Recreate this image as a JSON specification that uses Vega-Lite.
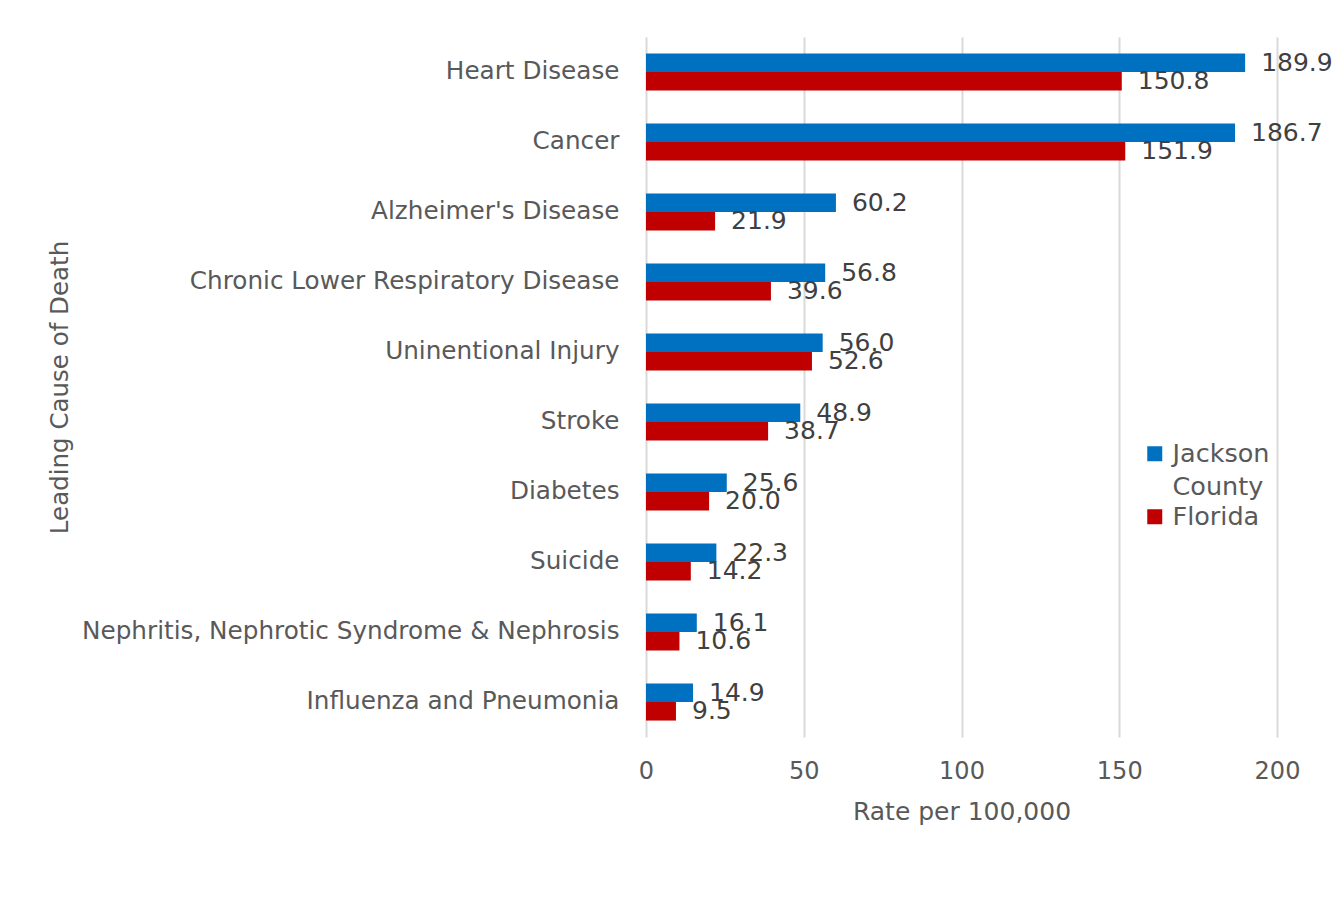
{
  "$schema": "https://vega.github.io/schema/vega-lite/v6.json",
  "autosize": {"type": "none"},
  "width": 631,
  "height": 700,
  "padding": {"left": 646, "top": 37, "right": 56, "bottom": 185},
  "background": "white",
  "config": {
    "view": {"stroke": null},
    "font": "DejaVu Sans"
  },
  "data": {
    "values": [
      {"cause": "Heart Disease", "series": "Jackson County", "rate": 189.9},
      {"cause": "Heart Disease", "series": "Florida", "rate": 150.8},
      {"cause": "Cancer", "series": "Jackson County", "rate": 186.7},
      {"cause": "Cancer", "series": "Florida", "rate": 151.9},
      {"cause": "Alzheimer's Disease", "series": "Jackson County", "rate": 60.2},
      {"cause": "Alzheimer's Disease", "series": "Florida", "rate": 21.9},
      {"cause": "Chronic Lower Respiratory Disease", "series": "Jackson County", "rate": 56.8},
      {"cause": "Chronic Lower Respiratory Disease", "series": "Florida", "rate": 39.6},
      {"cause": "Uninentional Injury", "series": "Jackson County", "rate": 56.0},
      {"cause": "Uninentional Injury", "series": "Florida", "rate": 52.6},
      {"cause": "Stroke", "series": "Jackson County", "rate": 48.9},
      {"cause": "Stroke", "series": "Florida", "rate": 38.7},
      {"cause": "Diabetes", "series": "Jackson County", "rate": 25.6},
      {"cause": "Diabetes", "series": "Florida", "rate": 20.0},
      {"cause": "Suicide", "series": "Jackson County", "rate": 22.3},
      {"cause": "Suicide", "series": "Florida", "rate": 14.2},
      {"cause": "Nephritis, Nephrotic Syndrome & Nephrosis", "series": "Jackson County", "rate": 16.1},
      {"cause": "Nephritis, Nephrotic Syndrome & Nephrosis", "series": "Florida", "rate": 10.6},
      {"cause": "Influenza and Pneumonia", "series": "Jackson County", "rate": 14.9},
      {"cause": "Influenza and Pneumonia", "series": "Florida", "rate": 9.5}
    ]
  },
  "encoding": {
    "y": {
      "field": "cause",
      "type": "nominal",
      "sort": null,
      "scale": {"paddingInner": 0.47, "paddingOuter": 0.235},
      "axis": {
        "title": "Leading Cause of Death",
        "titleFont": "DejaVu Sans",
        "titleFontSize": 24.5,
        "titleFontWeight": "normal",
        "titleColor": "#595959",
        "titleAngle": -90,
        "titleAlign": "center",
        "titleBaseline": "middle",
        "titleX": -586,
        "titleY": 350,
        "labelFont": "DejaVu Sans",
        "labelFontSize": 24.7,
        "labelColor": "#595959",
        "labelPadding": 27,
        "labelLimit": 0,
        "ticks": false,
        "domain": false,
        "grid": false
      }
    },
    "yOffset": {
      "field": "series",
      "type": "nominal",
      "scale": {"domain": ["Jackson County", "Florida"]}
    },
    "x": {
      "field": "rate",
      "type": "quantitative",
      "scale": {"domain": [0, 200], "nice": false},
      "axis": {
        "title": "Rate per 100,000",
        "titleFont": "DejaVu Sans",
        "titleFontSize": 25,
        "titleFontWeight": "normal",
        "titleColor": "#595959",
        "titleBaseline": "middle",
        "titleY": 74,
        "labelFont": "DejaVu Sans",
        "labelFontSize": 24,
        "labelColor": "#595959",
        "labelPadding": 22,
        "labelFlush": false,
        "values": [0, 50, 100, 150, 200],
        "ticks": false,
        "domain": false,
        "grid": true,
        "gridColor": "#d9d9d9",
        "gridWidth": 2
      }
    }
  },
  "layer": [
    {
      "mark": {"type": "bar"},
      "encoding": {
        "color": {
          "field": "series",
          "type": "nominal",
          "scale": {"domain": ["Jackson County", "Florida"], "range": ["#0070c0", "#c00000"]},
          "legend": {
            "title": null,
            "orient": "none",
            "legendX": 496,
            "legendY": 404,
            "padding": 0,
            "symbolType": "square",
            "symbolSize": 225,
            "symbolStrokeWidth": 0,
            "labelFont": "DejaVu Sans",
            "labelFontSize": 25.5,
            "labelColor": "#595959",
            "labelOffset": 5,
            "labelExpr": "datum.label == 'Jackson County' ? ['Jackson', 'County'] : datum.label",
            "rowPadding": 3,
            "encode": {"labels": {"update": {"lineHeight": {"value": 33}}}}
          }
        }
      }
    },
    {
      "mark": {"type": "text", "align": "left", "baseline": "middle", "dx": 16, "font": "DejaVu Sans", "fontSize": 25, "color": "#404040"},
      "encoding": {
        "text": {"field": "rate", "type": "quantitative", "format": ".1f"}
      }
    }
  ]
}
